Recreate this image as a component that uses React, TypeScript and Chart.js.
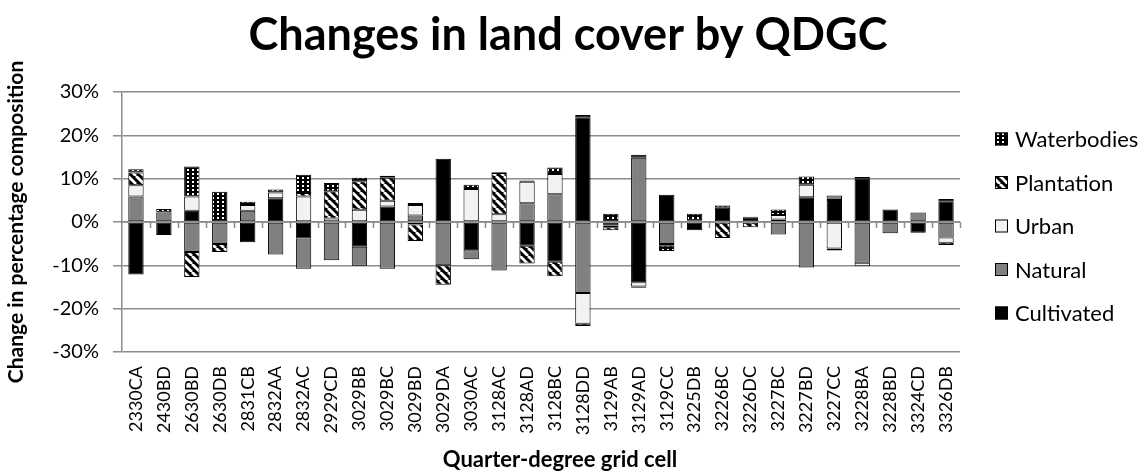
import React, { useEffect, useRef } from 'react';
import { Chart, registerables } from 'chart.js';
Chart.register(...registerables);

const categories = ['2330CA','2430BD','2630BD','2630DB','2831CB','2832AA','2832AC','2929CD','3029BB','3029BC','3029BD','3029DA','3030AC','3128AC','3128AD','3128BC','3128DD','3129AB','3129AD','3129CC','3225DB','3226BC','3226DC','3227BC','3227BD','3227CC','3228BA','3228BD','3324CD','3326DB'];
const cultivated = [-12.1,-3.0,2.6,0,-4.7,5.5,-3.8,0,-5.7,3.6,-0.6,14.6,-6.5,0,-5.5,-9.2,24.2,-0.8,-13.9,6.3,-1.9,3.3,1.0,0.6,5.7,5.1,10.0,2.9,-2.5,4.8];
const natural = [5.9,2.2,-6.9,-5.1,2.6,-7.5,-7.0,-8.8,-4.4,-10.8,1.5,-10.0,-2.1,-11.2,4.3,6.4,-16.4,0,14.8,-5.1,0,0,0,-2.9,-10.5,1.0,-9.4,-2.6,2.2,-3.6];
const urban = [2.6,0,3.3,0,1.3,1.3,5.9,0.8,2.8,1.3,2.4,0,7.6,1.8,5.0,4.7,-7.1,-0.4,-1.0,-0.4,0.4,0,-0.2,1.0,2.9,-6.1,-0.8,0,0,-1.2];
const plantation = [2.9,0,-5.8,-1.8,0,0,0.8,6.3,6.6,5.3,-3.8,-4.5,0,9.5,-4.1,-3.3,-0.5,-0.7,-0.3,0,0,-3.7,-1.0,0,0,-0.5,0,0,0,-0.5];
const waterbodies = [0.8,0.8,6.9,7.0,0.8,0.7,4.2,1.9,0.8,0.5,0.5,0,1.0,0.2,0.3,1.5,0.5,1.9,0.7,-1.2,1.5,0.5,0.2,1.3,1.9,0,0.4,0,0,0.5];
const yTickValues = [-30, -20, -10, 0, 10, 20, 30];

const TITLE = 'Changes in land cover by QDGC';
const X_TITLE = 'Quarter-degree grid cell';
const Y_TITLE = 'Change in percentage composition';

const GRID = '#8c8c8c';
const FONT = 'Lato';

function makeHatch(): CanvasPattern | string {
  const c = document.createElement('canvas');
  c.width = 8; c.height = 8;
  const g = c.getContext('2d');
  if (!g) return '#555';
  g.fillStyle = '#000';
  g.fillRect(0, 0, 8, 8);
  g.strokeStyle = '#fff';
  g.lineWidth = 2.8;
  g.beginPath();
  for (const k of [-8, 0, 8]) {
    g.moveTo(k, 0);
    g.lineTo(k + 8, 8);
  }
  g.stroke();
  return g.createPattern(c, 'repeat') || '#555';
}

function makeDots(): CanvasPattern | string {
  const c = document.createElement('canvas');
  c.width = 5; c.height = 4;
  const g = c.getContext('2d');
  if (!g) return '#222';
  g.fillStyle = '#000';
  g.fillRect(0, 0, 5, 4);
  g.fillStyle = '#fff';
  g.fillRect(2, 1, 2, 2);
  return g.createPattern(c, 'repeat') || '#222';
}

const nz = (arr: number[]) => arr.map((v) => (v === 0 ? null : v));

export default function App() {
  const ref = useRef<HTMLCanvasElement | null>(null);
  useEffect(() => {
    if (!ref.current) return;
    const hatch = makeHatch();
    const dots = makeDots();
    const series = [
      { label: 'Cultivated', data: cultivated, bg: '#000000' as any },
      { label: 'Natural', data: natural, bg: '#808080' as any },
      { label: 'Urban', data: urban, bg: '#f2f2f2' as any },
      { label: 'Plantation', data: plantation, bg: hatch as any },
      { label: 'Waterbodies', data: waterbodies, bg: dots as any },
    ];

    const custom = {
      id: 'custom',
      afterDatasetsDraw(chart: any) {
        const { ctx, chartArea, scales } = chart;
        const x = scales.x, y = scales.y;
        const y0 = y.getPixelForValue(0);
        const step = (chartArea.right - chartArea.left) / categories.length;
        ctx.save();
        ctx.strokeStyle = GRID;
        ctx.lineWidth = 1.5;
        ctx.beginPath();
        ctx.moveTo(chartArea.left, y0);
        ctx.lineTo(chartArea.right, y0);
        for (let i = 0; i < categories.length; i++) {
          const px = Math.round(x.getPixelForValue(i) + step / 2) + 0.5;
          ctx.moveTo(px, y0);
          ctx.lineTo(px, y0 + 6);
        }
        ctx.stroke();
        ctx.restore();
      },
      afterDraw(chart: any) {
        const { ctx, chartArea, scales, height } = chart;
        const x = scales.x;
        ctx.save();
        // title
        ctx.fillStyle = '#000';
        ctx.font = `bold 45px ${FONT}`;
        ctx.textAlign = 'center';
        ctx.textBaseline = 'alphabetic';
        ctx.fillText(TITLE, 568, 50);
        // x axis title
        ctx.font = `bold 22px ${FONT}`;
        ctx.textBaseline = 'middle';
        ctx.fillText(X_TITLE, 560, height - 13);
        // x labels
        ctx.font = `18px ${FONT}`;
        ctx.textAlign = 'right';
        ctx.textBaseline = 'middle';
        categories.forEach((lab, i) => {
          const px = x.getPixelForValue(i);
          ctx.save();
          ctx.translate(px, chartArea.bottom + 14);
          ctx.rotate(-Math.PI / 2);
          ctx.fillText(lab, 0, 0);
          ctx.restore();
        });
        // legend
        const ds = chart.data.datasets;
        const cy = (chartArea.top + chartArea.bottom) / 2 + 4;
        const lx = chartArea.right + 35;
        ctx.textAlign = 'left';
        ctx.font = `22px ${FONT}`;
        for (let j = ds.length - 1, idx = 0; j >= 0; j--, idx++) {
          const yy = cy + (idx - 2) * 43.5;
          ctx.fillStyle = ds[j].backgroundColor;
          ctx.fillRect(lx, yy - 6.5, 13, 13);
          ctx.strokeStyle = '#000';
          ctx.lineWidth = 1;
          ctx.strokeRect(lx + 0.5, yy - 6, 12, 12);
          ctx.fillStyle = '#000';
          ctx.fillText(ds[j].label, lx + 20, yy + 1);
        }
        ctx.restore();
      },
    };

    const chart = new Chart(ref.current, {
      type: 'bar',
      data: {
        labels: categories,
        datasets: series.map((s) => ({
          label: s.label,
          data: nz(s.data),
          backgroundColor: s.bg,
          borderColor: '#000',
          borderWidth: 1,
          borderSkipped: false,
          categoryPercentage: 1,
          barPercentage: 0.55,
        })),
      },
      options: {
        animation: false,
        responsive: true,
        maintainAspectRatio: false,
        layout: { padding: { right: 181, left: 0, top: 92, bottom: 0 } },
        plugins: {
          legend: { display: false },
          tooltip: { enabled: false },
          title: { display: false },
        },
        scales: {
          x: {
            stacked: true,
            grid: { display: false },
            border: { display: false },
            ticks: { display: false },
            afterFit: (s: any) => { s.height = 121; },
          },
          y: {
            stacked: true,
            min: -30,
            max: 30,
            afterBuildTicks: (s: any) => { s.ticks = yTickValues.map((v) => ({ value: v })); },
            grid: { color: GRID, lineWidth: 1.5, tickLength: 9, drawTicks: true },
            border: { display: true, color: GRID, width: 1.5 },
            ticks: {
              color: '#000',
              padding: 14,
              font: { family: FONT, size: 20 },
              callback: (v: any) => `${v}%`,
            },
            title: {
              display: true,
              text: Y_TITLE,
              color: '#000',
              font: { family: FONT, size: 21, weight: 'bold' },
              padding: { top: 4, bottom: 0 },
            },
            afterFit: (s: any) => { s.width = 122; },
          },
        },
      },
      plugins: [custom],
    });
    return () => chart.destroy();
  }, []);

  return (
    <div style={{ position: 'fixed', left: 0, top: 0, width: 1141, height: 473, background: '#fff' }}>
      <canvas ref={ref} />
    </div>
  );
}
